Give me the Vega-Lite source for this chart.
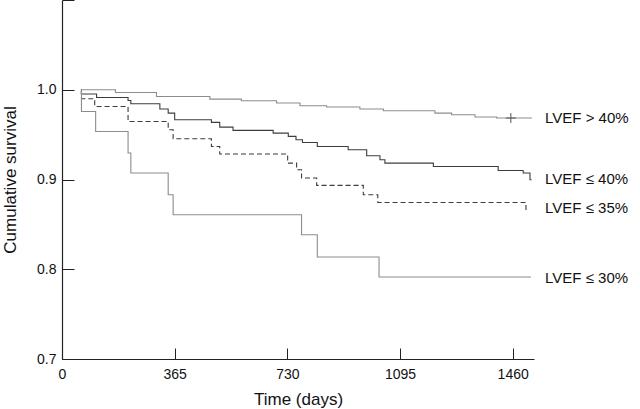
{
  "$schema": "https://vega.github.io/schema/vega-lite/v6.json",
  "width": 472,
  "height": 359,
  "autosize": {"type": "none"},
  "padding": {"left": 62, "top": 0, "right": 106, "bottom": 50},
  "background": "white",
  "config": {
    "view": {"stroke": null},
    "font": "Liberation Sans",
    "axis": {
      "grid": false,
      "domainColor": "#222",
      "domainWidth": 1.2,
      "tickColor": "#222",
      "tickWidth": 1,
      "labelColor": "#111",
      "titleColor": "#111",
      "labelFont": "Liberation Sans",
      "titleFont": "Liberation Sans",
      "labelFontSize": 14,
      "titleFontSize": 17,
      "titleFontWeight": "normal",
      "labelFlush": false,
      "labelOverlap": false
    }
  },
  "datasets": {
    "curves": [
      {"g": "gt40", "day": 63, "s": 1.0},
      {"g": "gt40", "day": 173, "s": 0.997},
      {"g": "gt40", "day": 306, "s": 0.9925},
      {"g": "gt40", "day": 479, "s": 0.9896},
      {"g": "gt40", "day": 581, "s": 0.9877},
      {"g": "gt40", "day": 695, "s": 0.9852},
      {"g": "gt40", "day": 771, "s": 0.9822},
      {"g": "gt40", "day": 857, "s": 0.9807},
      {"g": "gt40", "day": 965, "s": 0.9785},
      {"g": "gt40", "day": 1041, "s": 0.9766},
      {"g": "gt40", "day": 1208, "s": 0.974},
      {"g": "gt40", "day": 1262, "s": 0.9721},
      {"g": "gt40", "day": 1338, "s": 0.9696},
      {"g": "gt40", "day": 1408, "s": 0.9685},
      {"g": "gt40", "day": 1522, "s": 0.9685},

      {"g": "le40", "day": 62.5, "s": 1.0},
      {"g": "le40", "day": 63, "s": 0.9952},
      {"g": "le40", "day": 112, "s": 0.9914},
      {"g": "le40", "day": 214, "s": 0.9881},
      {"g": "le40", "day": 223, "s": 0.9844},
      {"g": "le40", "day": 317, "s": 0.9785},
      {"g": "le40", "day": 344, "s": 0.974},
      {"g": "le40", "day": 365, "s": 0.9666},
      {"g": "le40", "day": 484, "s": 0.9636},
      {"g": "le40", "day": 511, "s": 0.9584},
      {"g": "le40", "day": 554, "s": 0.9547},
      {"g": "le40", "day": 684, "s": 0.9517},
      {"g": "le40", "day": 733, "s": 0.948},
      {"g": "le40", "day": 758, "s": 0.9443},
      {"g": "le40", "day": 779, "s": 0.9413},
      {"g": "le40", "day": 827, "s": 0.9368},
      {"g": "le40", "day": 927, "s": 0.9331},
      {"g": "le40", "day": 987, "s": 0.9265},
      {"g": "le40", "day": 1030, "s": 0.922},
      {"g": "le40", "day": 1046, "s": 0.9183},
      {"g": "le40", "day": 1203, "s": 0.9145},
      {"g": "le40", "day": 1413, "s": 0.9101},
      {"g": "le40", "day": 1494, "s": 0.9072},
      {"g": "le40", "day": 1516, "s": 0.8997},
      {"g": "le40", "day": 1521, "s": 0.8997},

      {"g": "le35", "day": 62.5, "s": 1.0},
      {"g": "le35", "day": 63, "s": 0.99},
      {"g": "le35", "day": 106, "s": 0.9814},
      {"g": "le35", "day": 214, "s": 0.9647},
      {"g": "le35", "day": 344, "s": 0.9554},
      {"g": "le35", "day": 360, "s": 0.9454},
      {"g": "le35", "day": 484, "s": 0.9368},
      {"g": "le35", "day": 511, "s": 0.9284},
      {"g": "le35", "day": 731, "s": 0.9183},
      {"g": "le35", "day": 760, "s": 0.9109},
      {"g": "le35", "day": 776, "s": 0.9016},
      {"g": "le35", "day": 825, "s": 0.8934},
      {"g": "le35", "day": 976, "s": 0.883},
      {"g": "le35", "day": 1023, "s": 0.8744},
      {"g": "le35", "day": 1503, "s": 0.8644},
      {"g": "le35", "day": 1506, "s": 0.8644},

      {"g": "le30", "day": 62.5, "s": 1.0},
      {"g": "le30", "day": 63, "s": 0.9758},
      {"g": "le30", "day": 109, "s": 0.9535},
      {"g": "le30", "day": 214, "s": 0.9295},
      {"g": "le30", "day": 223, "s": 0.9072},
      {"g": "le30", "day": 344, "s": 0.883},
      {"g": "le30", "day": 360, "s": 0.8607},
      {"g": "le30", "day": 776, "s": 0.8384},
      {"g": "le30", "day": 827, "s": 0.8136},
      {"g": "le30", "day": 1027, "s": 0.7913},
      {"g": "le30", "day": 1519, "s": 0.7913}
    ],
    "censor": [
      {"day": 1454, "s": 0.9685}
    ],
    "labels": [
      {"label": "LVEF > 40%", "day": 1565, "s": 0.9688},
      {"label": "LVEF ≤ 40%", "day": 1565, "s": 0.9005},
      {"label": "LVEF ≤ 35%", "day": 1565, "s": 0.8682},
      {"label": "LVEF ≤ 30%", "day": 1565, "s": 0.7901}
    ]
  },
  "layer": [
    {
      "data": {"name": "curves"},
      "mark": {"type": "line", "interpolate": "step-after", "strokeWidth": 1.1},
      "encoding": {
        "x": {
          "field": "day", "type": "quantitative",
          "scale": {"domain": [0, 1529], "nice": false, "zero": false},
          "axis": {
            "title": "Time (days)",
            "values": [0, 365, 730, 1095, 1460],
            "format": "d",
            "tickSize": -11,
            "labelPadding": 19,
            "titleY": 32
          }
        },
        "y": {
          "field": "s", "type": "quantitative",
          "scale": {"domain": [0.7, 1.1], "nice": false, "zero": false},
          "axis": {
            "title": "Cumulative survival",
            "values": [0.7, 0.8, 0.9, 1.0, 1.1],
            "labelExpr": "datum.value > 1.05 ? '' : format(datum.value, '.1f')",
            "tickSize": -12,
            "labelPadding": 18,
            "titleX": -43,
            "titleY": 179.5
          }
        },
        "color": {
          "field": "g", "type": "nominal",
          "scale": {"domain": ["gt40", "le40", "le35", "le30"], "range": ["#8c8c8c", "#3c3c3c", "#3c3c3c", "#8c8c8c"]},
          "legend": null
        },
        "strokeDash": {
          "field": "g", "type": "nominal",
          "scale": {"domain": ["gt40", "le40", "le35", "le30"], "range": [[1, 0], [1, 0], [5, 3], [1, 0]]},
          "legend": null
        }
      }
    },
    {
      "data": {"name": "censor"},
      "mark": {"type": "point", "shape": "M0,-1V1M-1,0H1", "size": 100, "filled": false, "stroke": "#555", "strokeWidth": 1, "opacity": 1},
      "encoding": {
        "x": {"field": "day", "type": "quantitative"},
        "y": {"field": "s", "type": "quantitative"}
      }
    },
    {
      "data": {"name": "labels"},
      "mark": {"type": "text", "align": "left", "baseline": "middle", "fontSize": 15, "font": "Liberation Sans", "color": "#111"},
      "encoding": {
        "x": {"field": "day", "type": "quantitative"},
        "y": {"field": "s", "type": "quantitative"},
        "text": {"field": "label", "type": "nominal"}
      }
    }
  ]
}
